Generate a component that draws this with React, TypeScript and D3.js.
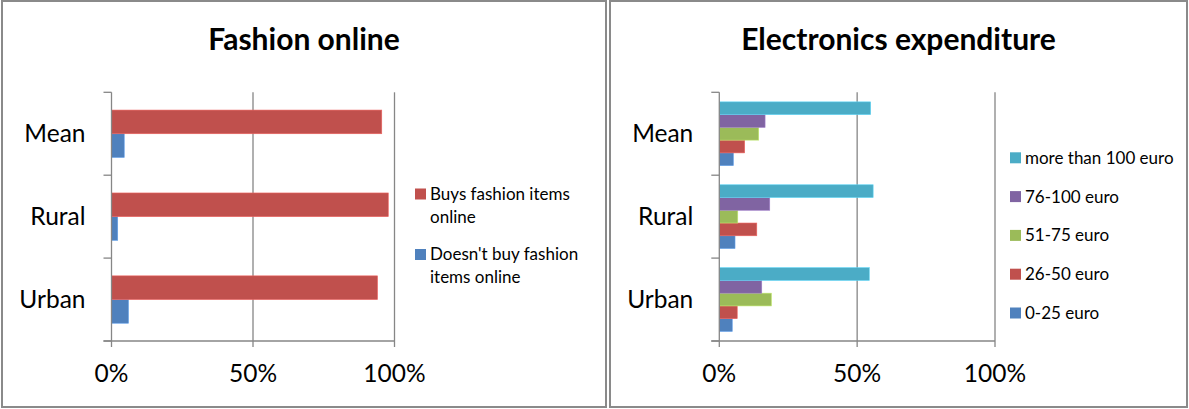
import React from "react";
import * as d3 from "d3";

const categories = ["Urban", "Rural", "Mean"];
const xTicks = [0, 50, 100];

const fashionSeries = ["Doesn't buy fashion items online", "Buys fashion items online"];
const fashionLegendLines = [["Doesn't buy fashion", "items online"], ["Buys fashion items", "online"]];
const fashionColors = ["#4F81BD", "#C0504D"];
const fashionDoesnt = [6, 2.2, 4.5];
const fashionBuys = [94, 97.8, 95.5];

const elecSeries = ["0-25 euro", "26-50 euro", "51-75 euro", "76-100 euro", "more than 100 euro"];
const elecColors = ["#4F81BD", "#C0504D", "#9BBB59", "#8064A2", "#4BACC6"];
const elec0_25 = [4.7, 5.7, 5.1];
const elec26_50 = [6.5, 13.6, 9.2];
const elec51_75 = [18.9, 6.7, 14.3];
const elec76_100 = [15.4, 18.3, 16.6];
const elecOver100 = [54.4, 55.8, 54.9];

const FONT = "Lato, 'Open Sans', sans-serif";
const GRAY = "#868686";

type PanelProps = {
  x0: number;
  x1: number;
  title: string;
  axisLeft: number;
  axisRight: number;
  series: string[];
  colors: string[];
  values: number[][];
  legend: React.ReactNode;
};

function Panel({ x0, x1, title, axisLeft, axisRight, series, colors, values, legend }: PanelProps) {
  const top = 92.3;
  const bottom = 341;
  const n = series.length;
  const pad = 1.5 / (n + 1.5);
  const x = d3.scaleLinear().domain([0, 100]).range([axisLeft, axisRight]);
  const y = d3.scaleBand<string>().domain([...categories].reverse()).range([top, bottom]).paddingInner(pad).paddingOuter(pad / 2);
  const ys = d3.scaleBand<string>().domain([...series].reverse()).range([0, y.bandwidth()]);
  const step = (bottom - top) / categories.length;
  const catTicks = d3.range(categories.length + 1).map((i) => top + i * step);
  return (
    <g>
      <rect x={x0} y={1} width={x1 - x0} height={406} fill="white" stroke="#8a8a8a" strokeWidth={2} />
      <text x={(x0 + x1) / 2} y={50} textAnchor="middle" fontFamily={FONT} fontWeight="bold" fontSize={30} fill="#000">
        {title}
      </text>
      {xTicks.slice(1).map((t) => (
        <line key={"g" + t} x1={x(t)} x2={x(t)} y1={top} y2={bottom} stroke={GRAY} strokeWidth={1.3} />
      ))}
      {series.map((s, si) =>
        categories.map((c, ci) => (
          <rect
            key={s + c}
            x={x(0)}
            y={(y(c) as number) + (ys(s) as number)}
            width={x(values[si][ci]) - x(0)}
            height={ys.bandwidth()}
            fill={colors[si]}
            stroke={d3.color(colors[si])!.brighter(0.6).formatHex()}
            strokeWidth={0.6}
          />
        ))
      )}
      <line x1={x(0)} x2={x(0)} y1={top} y2={bottom} stroke={GRAY} strokeWidth={1.3} />
      <line x1={x(0) - 8} x2={x(100)} y1={bottom} y2={bottom} stroke={GRAY} strokeWidth={1.3} />
      {catTicks.map((t, i) => (
        <line key={"ct" + i} x1={x(0) - 8} x2={x(0)} y1={t} y2={t} stroke={GRAY} strokeWidth={1.3} />
      ))}
      {xTicks.map((t) => (
        <line key={"xt" + t} x1={x(t)} x2={x(t)} y1={bottom} y2={bottom + 6} stroke={GRAY} strokeWidth={1.3} />
      ))}
      {categories.map((c) => (
        <text
          key={"cl" + c}
          x={x(0) - 26}
          y={(y(c) as number) + y.bandwidth() / 2 + 8}
          textAnchor="end"
          fontFamily={FONT}
          fontSize={24.5}
          fill="#000"
        >
          {c}
        </text>
      ))}
      {xTicks.map((t) => (
        <text key={"xl" + t} x={x(t)} y={381.7} textAnchor="middle" fontFamily={FONT} fontSize={24.5} fill="#000">
          {t}%
        </text>
      ))}
      {legend}
    </g>
  );
}

export default function App() {
  const fashionValues = [fashionDoesnt, fashionBuys];
  const elecValues = [elec0_25, elec26_50, elec51_75, elec76_100, elecOver100];

  const fashionLegendOrder = [1, 0];
  const fashionLegend = (
    <g>
      {fashionLegendOrder.map((si, i) => {
        const sy = 188.5 + i * 60.5;
        return (
          <g key={"fl" + si}>
            <rect x={415} y={sy} width={11} height={11} fill={fashionColors[si]} />
            {fashionLegendLines[si].map((ln, li) => (
              <text key={li} x={430} y={sy + 11 + li * 23} fontFamily={FONT} fontSize={17} fill="#000">
                {ln}
              </text>
            ))}
          </g>
        );
      })}
    </g>
  );

  const elecLegendOrder = [4, 3, 2, 1, 0];
  const elecLegend = (
    <g>
      {elecLegendOrder.map((si, i) => {
        const sy = 152.3 + i * 38.8;
        return (
          <g key={"el" + si}>
            <rect x={1010} y={sy} width={11} height={11} fill={elecColors[si]} />
            <text x={1025} y={sy + 11.5} fontFamily={FONT} fontSize={17} fill="#000">
              {elecSeries[si]}
            </text>
          </g>
        );
      })}
    </g>
  );

  return (
    <svg
      width={1189}
      height={409}
      style={{ position: "fixed", left: 0, top: 0, background: "white" }}
    >
      <rect x={0} y={0} width={1189} height={409} fill="white" />
      <Panel
        x0={2}
        x1={606}
        title="Fashion online"
        axisLeft={111.5}
        axisRight={394.5}
        series={fashionSeries}
        colors={fashionColors}
        values={fashionValues}
        legend={fashionLegend}
      />
      <Panel
        x0={610}
        x1={1187}
        title="Electronics expenditure"
        axisLeft={719.3}
        axisRight={995}
        series={elecSeries}
        colors={elecColors}
        values={elecValues}
        legend={elecLegend}
      />
    </svg>
  );
}
